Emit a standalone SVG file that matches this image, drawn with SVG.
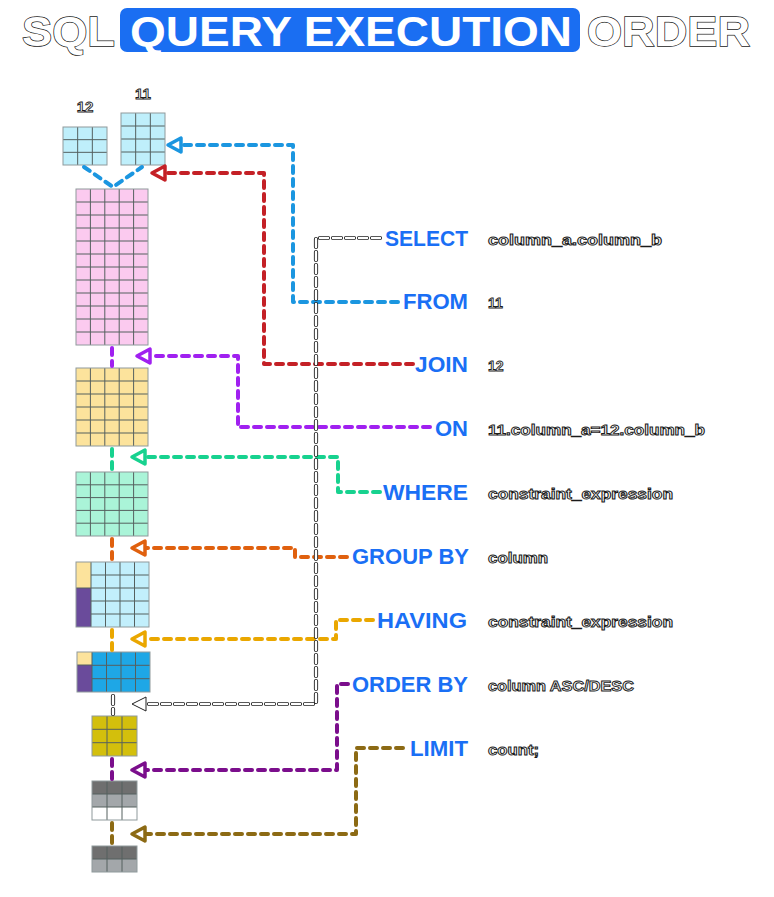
<svg xmlns="http://www.w3.org/2000/svg" xmlns:xlink="http://www.w3.org/1999/xlink" width="774" height="897" viewBox="0 0 774 897">
<style>
.bg{fill:#fff}
.outl{fill:#fff;stroke:#222;stroke-width:1.4;font-family:"Liberation Sans",Arial,sans-serif;font-weight:bold;font-size:43px;paint-order:stroke}
.ttl{fill:#fff;font-family:"Liberation Sans",Arial,sans-serif;font-weight:bold;font-size:43px}
.kw{fill:#1a6ff5;font-family:"Liberation Sans",Arial,sans-serif;font-weight:bold;font-size:22px}
.val{fill:#fff;stroke:#1a1a1a;stroke-width:0.9;font-family:"Liberation Sans",Arial,sans-serif;font-weight:bold;font-size:14px}
.lbl{fill:#fff;stroke:#1a1a1a;stroke-width:0.9;font-family:"Liberation Sans",Arial,sans-serif;font-weight:bold;font-size:15px;text-anchor:middle}
.grid{fill:none;stroke:#55605f;stroke-width:1}
.frame{fill:none;stroke:#8f9a9c;stroke-width:1}
.dash{fill:none;stroke-width:4;stroke-dasharray:7 6;stroke-linecap:round;stroke-linejoin:round}
.od1{fill:none;stroke:#222;stroke-width:4.2;stroke-dasharray:8 5;stroke-linecap:round}
.od2{fill:none;stroke:#fff;stroke-width:2.4;stroke-dasharray:8 5;stroke-linecap:round}
</style>
<defs>
<path id="ah" d="M0,0 L13,-7 L13,7 Z" fill="#fff" stroke="currentColor" stroke-width="3.5" stroke-linejoin="round"/>
</defs>
<rect class="bg" x="0" y="0" width="774" height="897"/>

<g id="title">
<text class="outl" x="22" y="46" textLength="93" lengthAdjust="spacingAndGlyphs">SQL</text>
<rect x="120" y="8" width="460" height="44" rx="7" fill="#1a6ef2"/>
<text class="ttl" x="130" y="46" textLength="442" lengthAdjust="spacingAndGlyphs">QUERY EXECUTION</text>
<text class="outl" x="587" y="46" textLength="163" lengthAdjust="spacingAndGlyphs">ORDER</text>
</g>

<g id="t12">
<text class="lbl" x="85" y="112">12</text>
<rect x="63" y="127" width="44" height="38" fill="#bfeffb"/>
<path class="grid" d="M77.67,127V165M92.33,127V165M63,139.67H107M63,152.33H107"/>
<rect class="frame" x="63" y="127" width="44" height="38"/>
</g>
<g id="t11">
<text class="lbl" x="143" y="99">11</text>
<rect x="121" y="113" width="44" height="52" fill="#bfeffb"/>
<path class="grid" d="M135.67,113V165M150.33,113V165M121,126H165M121,139H165M121,152H165"/>
<rect class="frame" x="121" y="113" width="44" height="52"/>
</g>
<g id="t-join">
<rect x="76" y="189" width="72" height="156" fill="#fbcaef"/>
<path class="grid" d="M90.4,189V345M104.8,189V345M119.2,189V345M133.6,189V345M76,202H148M76,215H148M76,228H148M76,241H148M76,254H148M76,267H148M76,280H148M76,293H148M76,306H148M76,319H148M76,332H148"/>
<rect class="frame" x="76" y="189" width="72" height="156"/>
</g>
<g id="t-on">
<rect x="76" y="368" width="72" height="78" fill="#fce39c"/>
<path class="grid" d="M90.4,368V446M104.8,368V446M119.2,368V446M133.6,368V446M76,381H148M76,394H148M76,407H148M76,420H148M76,433H148"/>
<rect class="frame" x="76" y="368" width="72" height="78"/>
</g>
<g id="t-where">
<rect x="76" y="472" width="72" height="64" fill="#aaf4d8"/>
<path class="grid" d="M90.4,472V536M104.8,472V536M119.2,472V536M133.6,472V536M76,484.8H148M76,497.6H148M76,510.4H148M76,523.2H148"/>
<rect class="frame" x="76" y="472" width="72" height="64"/>
</g>
<g id="t-groupby">
<rect x="76" y="562" width="73" height="65" fill="#c2effc"/>
<rect x="76" y="562" width="15" height="26" fill="#fce39c"/>
<rect x="76" y="588" width="15" height="39" fill="#6a4b9b"/>
<path class="grid" d="M91,562V627M105.5,562V627M120,562V627M134.5,562V627M91,575H149M91,588H149M91,601H149M91,614H149M76,588H91"/>
<rect class="frame" x="76" y="562" width="73" height="65"/>
</g>
<g id="t-having">
<rect x="77" y="652" width="73" height="40" fill="#1ea7e6"/>
<rect x="77" y="652" width="15" height="13" fill="#fce39c"/>
<rect x="77" y="665" width="15" height="27" fill="#6a4b9b"/>
<path class="grid" d="M92,652V692M106.5,652V692M121,652V692M135.5,652V692M92,665.3H150M92,678.7H150M77,665H92"/>
<rect class="frame" x="77" y="652" width="73" height="40"/>
</g>
<g id="t-select">
<rect x="92" y="716" width="45" height="40" fill="#d3bf0c"/>
<path class="grid" d="M107,716V756M122,716V756M92,729.3H137M92,742.7H137"/>
<rect class="frame" x="92" y="716" width="45" height="40"/>
</g>
<g id="t-orderby">
<rect x="92" y="781" width="45" height="13" fill="#6f6f6f"/>
<rect x="92" y="794" width="45" height="13" fill="#a3a7aa"/>
<rect x="92" y="807" width="45" height="13" fill="#ffffff"/>
<path class="grid" d="M107,781V820M122,781V820M92,794H137M92,807H137"/>
<rect class="frame" x="92" y="781" width="45" height="39"/>
</g>
<g id="t-limit">
<rect x="92" y="846" width="45" height="13" fill="#6f6f6f"/>
<rect x="92" y="859" width="45" height="13" fill="#a3a7aa"/>
<path class="grid" d="M107,846V872M122,846V872M92,859H137"/>
<rect class="frame" x="92" y="846" width="45" height="26"/>
</g>

<g id="keywords">
<text class="kw" x="385" y="246" textLength="83" lengthAdjust="spacingAndGlyphs">SELECT</text>
<text class="val" x="488" y="245" textLength="174" lengthAdjust="spacingAndGlyphs">column_a.column_b</text>
<text class="kw" x="403" y="309" textLength="65" lengthAdjust="spacingAndGlyphs">FROM</text>
<text class="val" x="488" y="308">11</text>
<text class="kw" x="415" y="372" textLength="53" lengthAdjust="spacingAndGlyphs">JOIN</text>
<text class="val" x="488" y="371">12</text>
<text class="kw" x="435" y="436" textLength="33" lengthAdjust="spacingAndGlyphs">ON</text>
<text class="val" x="488" y="435" textLength="217" lengthAdjust="spacingAndGlyphs">11.column_a=12.column_b</text>
<text class="kw" x="383" y="500" textLength="85" lengthAdjust="spacingAndGlyphs">WHERE</text>
<text class="val" x="488" y="499" textLength="185" lengthAdjust="spacingAndGlyphs">constraint_expression</text>
<text class="kw" x="352" y="564" textLength="117" lengthAdjust="spacingAndGlyphs">GROUP BY</text>
<text class="val" x="488" y="563" textLength="60" lengthAdjust="spacingAndGlyphs">column</text>
<text class="kw" x="377" y="628" textLength="90" lengthAdjust="spacingAndGlyphs">HAVING</text>
<text class="val" x="488" y="627" textLength="185" lengthAdjust="spacingAndGlyphs">constraint_expression</text>
<text class="kw" x="352" y="692" textLength="116" lengthAdjust="spacingAndGlyphs">ORDER BY</text>
<text class="val" x="488" y="691" textLength="146" lengthAdjust="spacingAndGlyphs">column ASC/DESC</text>
<text class="kw" x="410" y="756" textLength="58" lengthAdjust="spacingAndGlyphs">LIMIT</text>
<text class="val" x="488" y="755" textLength="51" lengthAdjust="spacingAndGlyphs">count;</text>
</g>

<g id="connectors">
<path class="dash" stroke="#1b96e0" d="M84,167L113,187L142,167"/>
<path class="dash" stroke="#1b96e0" d="M398,302H293V145H182"/>
<use href="#ah" x="168" y="145" style="color:#1b96e0"/>
<path class="dash" stroke="#c42026" d="M413,364H264V173H166"/>
<use href="#ah" x="152" y="173" style="color:#c42026"/>
<path class="dash" stroke="#a020f0" d="M430,427H238V356H151"/>
<use href="#ah" x="137" y="356" style="color:#a020f0"/>
<path class="dash" stroke="#a020f0" d="M112,348V366"/>
<path class="dash" stroke="#17d28f" d="M380,492H338V457H146"/>
<use href="#ah" x="132" y="457" style="color:#17d28f"/>
<path class="dash" stroke="#17d28f" d="M112,449V470"/>
<path class="dash" stroke="#e0600e" d="M347,557H295V548H146"/>
<use href="#ah" x="132" y="548" style="color:#e0600e"/>
<path class="dash" stroke="#e0600e" d="M112,539V560"/>
<path class="dash" stroke="#eaa700" d="M373,620H336V639H146"/>
<use href="#ah" x="132" y="639" style="color:#eaa700"/>
<path class="dash" stroke="#eaa700" d="M112,630V650"/>
<path class="dash" stroke="#7b0e8c" d="M348,684H337V770H146"/>
<use href="#ah" x="132" y="770" style="color:#7b0e8c"/>
<path class="dash" stroke="#7b0e8c" d="M112,759V779"/>
<path class="dash" stroke="#8c6a14" d="M403,748H356V834H146"/>
<use href="#ah" x="132" y="834" style="color:#8c6a14"/>
<path class="dash" stroke="#8c6a14" d="M112,823V844"/>
<path class="od1" d="M380,238H316V704H147"/>
<path class="od2" d="M380,238H316V704H147"/>
<path class="od1" d="M113,696V714"/>
<path class="od2" d="M113,696V714"/>
<path d="M132,704L146,697L146,711Z" fill="#fff" stroke="#222" stroke-width="1"/>
</g>
</svg>
